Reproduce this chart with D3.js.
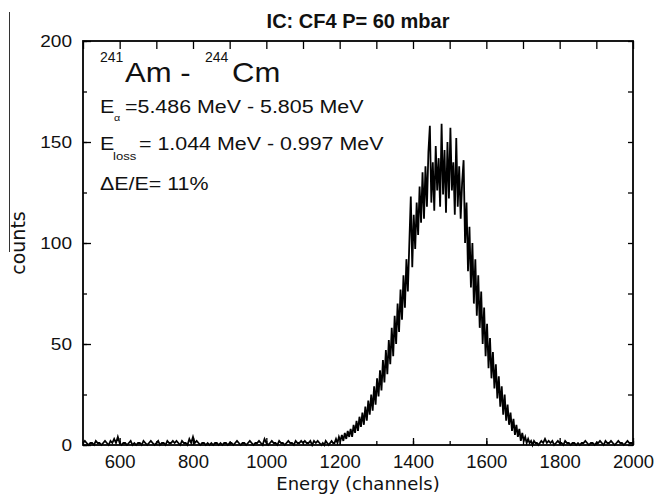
<!DOCTYPE html>
<html>
<head>
<meta charset="utf-8">
<script src="https://cdn.jsdelivr.net/npm/d3@7"></script>
<style>
    body { margin: 0; background: #fff; }
    svg { display: block; }
    .tick text { font-family: "Liberation Sans", Arial, sans-serif; fill: #111; }
    .note { font-family: "Liberation Sans", Arial, sans-serif; fill: #111; }
    .axis-title { font-family: "DejaVu Sans", sans-serif; fill: #111; }
</style>
</head>
<body>
<div id="chart"></div>
<script>

// counts, channel = start + i * step
const lowStart = 500, lowStep = 5;
const lowCounts = [
    1,2,1,0,1,1,0,2,1,1,
    0,1,2,1,0,2,1,3,1,4,
    1,0,1,1,0,1,2,0,1,0,
    1,1,0,2,1,0,1,2,1,0,
    1,2,0,1,1,0,2,1,1,2,
    1,2,1,0,2,1,1,0,3,1,
    4,1,2,1,0,1,1,0,1,0,
    1,0,1,1,0,1,0,1,1,0,
    1,1,0,1,2,1,0,1,1,0,
    1,2,1,0,1,1,2,1,0,3,
    1,0,1,2,1,1,0,2,1,1,
    0,1,2,1,1,0,2,1,1,2,
    1,2,1,1,2,0,2,1,2,1
];

const peakStart = 1150, peakStep = 4;
const peakCounts = [
    0,1,0,2,1,0,1,2,1,1,
    3,1,4,2,5,2,6,3,7,4,
    8,4,10,6,12,7,14,9,16,10,
    19,12,22,15,25,17,29,20,33,24,
    37,27,42,31,47,35,52,40,58,44,
    64,50,70,56,77,62,84,68,92,76,
    100,123,88,114,97,120,104,128,110,135,
    112,138,118,145,158,120,140,116,148,126,
    142,118,159,124,146,115,150,122,157,126,
    140,114,152,118,138,112,130,141,100,120,
    86,108,78,100,70,92,64,84,58,76,
    50,68,44,60,38,53,33,46,28,40,
    23,34,19,29,15,25,12,20,10,16,
    7,13,5,10,4,8,2,6,2,4,
    1,3,1,2,0,2,1,1,0,1
];

const highStart = 1750, highStep = 5;
const highCounts = [
    2,1,3,1,2,1,2,0,1,2,
    1,1,0,2,1,1,0,1,1,0,
    1,0,1,1,2,1,0,1,1,0,
    1,1,2,1,0,2,1,1,2,1,
    0,1,2,1,1,0,1,2,1,1,
    1
];

const xTicks = [600, 800, 1000, 1200, 1400, 1600, 1800, 2000];
const xMinor = [500, 600, 700, 800, 900, 1000, 1100, 1200, 1300, 1400, 1500, 1600, 1700, 1800, 1900, 2000];
const yTicks = [0, 50, 100, 150, 200];
const yMinor = [0, 25, 50, 75, 100, 125, 150, 175, 200];

const title = "IC: CF4 P= 60 mbar";
const xTitle = "Energy (channels)";
const yTitle = "counts";


function toPoints(start, step, counts) {
    return counts.map((c, i) => ({ch: start + i * step, n: c}));
}

let spectrum = toPoints(lowStart, lowStep, lowCounts)
    .concat(toPoints(peakStart, peakStep, peakCounts))
    .concat(toPoints(highStart, highStep, highCounts));

let width = 656, height = 500;
let margin = {top: 41, right: 23, bottom: 55, left: 83};

let svg = d3.select("#chart").append("svg")
    .attr("width", width)
    .attr("height", height);

let x = d3.scaleLinear()
    .domain([500, 2000])
    .range([margin.left, width - margin.right]);

let y = d3.scaleLinear()
    .domain([0, 200])
    .range([height - margin.bottom, margin.top]);

// spectrum line
svg.append("path")
    .datum(spectrum)
    .attr("fill", "none")
    .attr("stroke", "#000")
    .attr("stroke-width", 1.8)
    .attr("d", d3.line().x(d => x(d.ch)).y(d => y(d.n)));

// axes, ticks pointing inward
let bottom = svg.append("g")
    .attr("transform", `translate(0,${y(0)})`)
    .call(d3.axisBottom(x).tickValues(xTicks).tickFormat(d3.format("d"))
        .tickSizeInner(-7).tickSizeOuter(0).tickPadding(10));
bottom.selectAll("text").style("font-size", "18.5px");

svg.append("g")
    .attr("transform", `translate(0,${y(0)})`)
    .call(d3.axisBottom(x).tickValues(xMinor).tickSizeInner(-4).tickSizeOuter(0).tickFormat(""));

svg.append("g")
    .attr("transform", `translate(0,${y(200)})`)
    .call(d3.axisTop(x).tickValues(xMinor).tickSizeInner(-8).tickSizeOuter(0).tickFormat(""));

let left = svg.append("g")
    .attr("transform", `translate(${x(500)},0)`)
    .call(d3.axisLeft(y).tickValues(yTicks).tickSizeInner(-8).tickSizeOuter(0).tickPadding(11));
left.selectAll("text")
    .style("font-size", "17px")
    .attr("x", -11 / 1.12)
    .attr("transform", "scale(1.12,1)");

svg.append("g")
    .attr("transform", `translate(${x(500)},0)`)
    .call(d3.axisLeft(y).tickValues(yMinor).tickSizeInner(-4).tickSizeOuter(0).tickFormat(""));

svg.append("g")
    .attr("transform", `translate(${x(2000)},0)`)
    .call(d3.axisRight(y).tickValues(yMinor).tickSizeInner(-5).tickSizeOuter(0).tickFormat(""));

svg.selectAll(".domain").remove();
svg.selectAll(".tick line").attr("stroke", "#000").attr("stroke-width", 1.3);

// frame
svg.append("rect")
    .attr("x", x(500))
    .attr("y", y(200))
    .attr("width", x(2000) - x(500))
    .attr("height", y(0) - y(200))
    .attr("fill", "none")
    .attr("stroke", "#000")
    .attr("stroke-width", 1.8);

// title and axis titles
svg.append("text")
    .attr("class", "note")
    .attr("x", 358)
    .attr("y", 28)
    .attr("text-anchor", "middle")
    .style("font-size", "20px")
    .style("font-weight", "bold")
    .text(title);

svg.append("text")
    .attr("class", "axis-title")
    .attr("x", 358)
    .attr("y", 490)
    .attr("text-anchor", "middle")
    .style("font-size", "18px")
    .text(xTitle);

svg.append("text")
    .attr("class", "axis-title")
    .attr("transform", "translate(25,243) rotate(-90)")
    .attr("text-anchor", "middle")
    .style("font-size", "19px")
    .text(yTitle);

// stray rule next to the y title in the source figure
svg.append("line")
    .attr("x1", 9.5).attr("x2", 9.5)
    .attr("y1", 12).attr("y2", 252)
    .attr("stroke", "#333")
    .attr("stroke-width", 1);

// annotations
function note(str, px, py, size, sx) {
    svg.append("text")
        .attr("class", "note")
        .attr("transform", `translate(${px},${py}) scale(${sx},1)`)
        .style("font-size", size + "px")
        .text(str);
}

note("241", 100, 62, 14, 1);
note("Am - ", 125, 82, 27, 1.15);
note("244", 205, 62, 14, 1);
note("Cm", 232, 82, 27, 1.15);

note("E", 100, 113, 18, 1.19);
note("\u03b1", 114, 121, 9, 1.19);
note("=5.486 MeV - 5.805 MeV", 125, 113, 18, 1.19);

note("E", 100, 150, 18, 1.19);
note("loss", 113, 160, 11, 1.19);
note("= 1.044 MeV - 0.997 MeV", 139, 150, 18, 1.19);

note("\u0394E/E= 11%", 100, 190, 18, 1.19);

</script>
</body>
</html>
